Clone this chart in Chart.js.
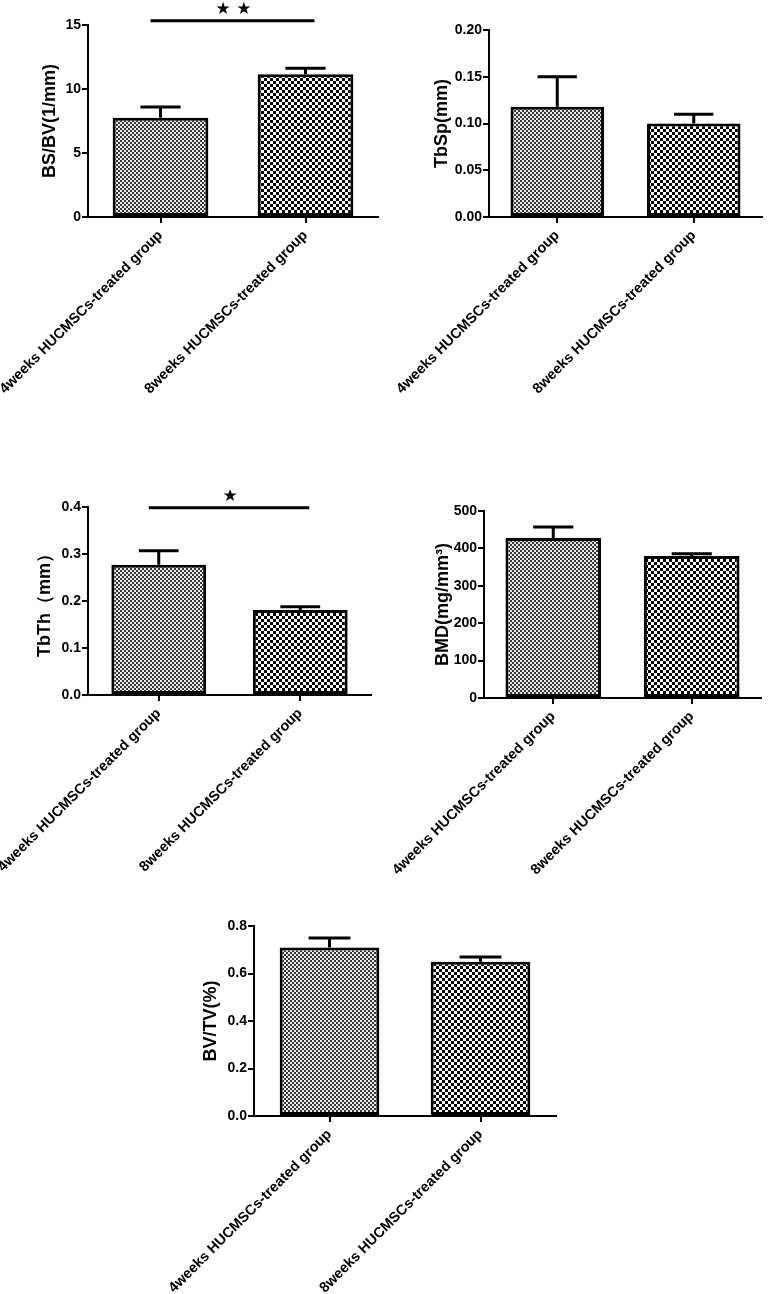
<!DOCTYPE html>
<html lang="en">
  <head>
    <meta charset="UTF-8" />
    <title>HUCMSCs micro-CT</title>
    <script src="https://cdn.jsdelivr.net/npm/chart.js"></script>
    <style>
      body { margin: 0; background: #fff; }
      .panel { position: absolute; }
    </style>
  </head>
  <body>
    <canvas id="bsbvChart" class="panel" width="384" height="480" style="left:0;top:0"></canvas>
    <canvas id="tbspChart" class="panel" width="384" height="480" style="left:384px;top:0"></canvas>
    <canvas id="tbthChart" class="panel" width="384" height="410" style="left:0;top:490px"></canvas>
    <canvas id="bmdChart" class="panel" width="384" height="410" style="left:384px;top:490px"></canvas>
    <canvas id="bvtvChart" class="panel" width="420" height="394" style="left:154px;top:900px"></canvas>

    <script>
      // groups
      const groups = ['4weeks HUCMSCs-treated group', '8weeks HUCMSCs-treated group']

      // means and SEM
      const bsbvMean = [7.75, 11.15]
      const bsbvSem = [0.85, 0.47]
      const tbspMean = [0.118, 0.1]
      const tbspSem = [0.032, 0.01]
      const tbthMean = [0.277, 0.181]
      const tbthSem = [0.03, 0.007]
      const bmdMean = [428, 380]
      const bmdSem = [29, 6]
      const bvtvMean = [0.71, 0.65]
      const bvtvSem = [0.04, 0.02]

      // y ticks
      const bsbvTicks = [0, 5, 10, 15]
      const tbspTicks = [0, 0.05, 0.1, 0.15, 0.2]
      const tbthTicks = [0, 0.1, 0.2, 0.3, 0.4]
      const bmdTicks = [0, 100, 200, 300, 400, 500]
      const bvtvTicks = [0, 0.2, 0.4, 0.6, 0.8]

      // significance bars (level in axis units)
      const bsbvSig = { level: 15.34, mark: '★ ★' }
      const tbthSig = { level: 0.3985, mark: '★' }

      const FONT = "'Liberation Sans', Arial, sans-serif"

      function checker(cell, dark, light) {
        const c = document.createElement('canvas')
        c.width = c.height = cell * 2
        const g = c.getContext('2d')
        g.fillStyle = light
        g.fillRect(0, 0, cell * 2, cell * 2)
        g.fillStyle = dark
        g.fillRect(0, 0, cell, cell)
        g.fillRect(cell, cell, cell, cell)
        return g.createPattern(c, 'repeat')
      }
      const fineFill = checker(2, '#3a3a3a', '#e6e6e6')
      const coarseFill = checker(3, '#000000', '#ffffff')

      const errorBars = {
        id: 'errorBars',
        afterDatasetsDraw(chart, args, opts) {
          const ctx = chart.ctx
          const y = chart.scales.y
          const meta = chart.getDatasetMeta(0)
          ctx.save()
          ctx.strokeStyle = '#000'
          ctx.lineWidth = 3
          meta.data.forEach((bar, i) => {
            const top = y.getPixelForValue(opts.mean[i] + opts.sem[i])
            const half = bar.width * 0.21
            ctx.beginPath()
            ctx.moveTo(bar.x, bar.y)
            ctx.lineTo(bar.x, top)
            ctx.moveTo(bar.x - half, top)
            ctx.lineTo(bar.x + half, top)
            ctx.stroke()
          })
          if (opts.sig) {
            const x0 = meta.data[0].x - 10
            const x1 = meta.data[1].x + 9
            const ys = y.getPixelForValue(opts.sig.level)
            ctx.beginPath()
            ctx.moveTo(x0, ys)
            ctx.lineTo(x1, ys)
            ctx.stroke()
            ctx.fillStyle = '#000'
            ctx.font = "17px 'DejaVu Sans'"
            ctx.textAlign = 'center'
            ctx.textBaseline = 'middle'
            ctx.fillText(opts.sig.mark, (x0 + x1) / 2 + 1, ys - 11)
          }
          ctx.restore()
        },
      }

      function makeChart(id, cfg) {
        const canvas = document.getElementById(id)
        new Chart(canvas, {
          type: 'bar',
          data: {
            labels: groups,
            datasets: [
              {
                data: cfg.mean,
                backgroundColor: [fineFill, coarseFill],
                borderColor: '#000',
                borderWidth: 3,
                borderSkipped: false,
                barPercentage: cfg.barPct,
                categoryPercentage: 1,
              },
            ],
          },
          options: {
            responsive: false,
            animation: false,
            layout: { padding: { top: cfg.padTop, right: cfg.padRight, left: 0, bottom: 0 } },
            plugins: {
              legend: { display: false },
              tooltip: { enabled: false },
              errorBars: { mean: cfg.mean, sem: cfg.sem, sig: cfg.sig },
            },
            scales: {
              x: {
                afterFit: (s) => {
                  s.height = canvas.height - cfg.bottom
                  s.paddingLeft = 0
                  s.paddingRight = 0
                },
                grid: { offset: false, drawOnChartArea: false, color: '#000', lineWidth: 2, tickLength: 6 },
                border: { color: '#000', width: 2 },
                ticks: {
                  color: '#000',
                  font: { family: FONT, size: 14.4, weight: 'bold' },
                  minRotation: 45,
                  maxRotation: 45,
                  autoSkip: false,
                  padding: 4,
                },
              },
              y: {
                min: cfg.ticks[0],
                max: cfg.ticks[cfg.ticks.length - 1],
                afterFit: (s) => {
                  s.width = cfg.yWidth
                  s.paddingTop = 0
                  s.paddingBottom = 0
                },
                afterBuildTicks: (s) => { s.ticks = cfg.ticks.map((v) => ({ value: v })) },
                grid: { drawOnChartArea: false, color: '#000', lineWidth: 2, tickLength: 6 },
                border: { color: '#000', width: 2 },
                ticks: {
                  color: '#000',
                  padding: 1,
                  font: { family: FONT, size: 14, weight: 'bold' },
                  callback: (v) => v.toFixed(cfg.dec),
                },
                title: {
                  display: true,
                  text: cfg.title,
                  color: '#000',
                  font: { family: FONT, size: 18, weight: 'bold' },
                  padding: { top: cfg.titlePad, bottom: 0 },
                },
              },
            },
          },
          plugins: [errorBars],
        })
      }

      makeChart('bsbvChart', {
        mean: bsbvMean, sem: bsbvSem, ticks: bsbvTicks, dec: 0, sig: bsbvSig,
        title: 'BS/BV(1/mm)', padTop: 25, padRight: 6, yWidth: 88, bottom: 217, titlePad: 39, barPct: 0.66,
      })
      makeChart('tbspChart', {
        mean: tbspMean, sem: tbspSem, ticks: tbspTicks, dec: 2, sig: null,
        title: 'TbSp(mm)', padTop: 30, padRight: 6, yWidth: 105, bottom: 217, titlePad: 47, barPct: 0.685,
      })
      makeChart('tbthChart', {
        mean: tbthMean, sem: tbthSem, ticks: tbthTicks, dec: 1, sig: tbthSig,
        title: 'TbTh（mm）', padTop: 17, padRight: 13, yWidth: 88, bottom: 205, titlePad: 34, barPct: 0.67,
      })
      makeChart('bmdChart', {
        mean: bmdMean, sem: bmdSem, ticks: bmdTicks, dec: 0, sig: null,
        title: 'BMD(mg/mm³)', padTop: 21, padRight: 7, yWidth: 100, bottom: 208, titlePad: 48, barPct: 0.69,
      })
      makeChart('bvtvChart', {
        mean: bvtvMean, sem: bvtvSem, ticks: bvtvTicks, dec: 1, sig: null,
        title: 'BV/TV(%)', padTop: 26, padRight: 18, yWidth: 100, bottom: 216, titlePad: 46, barPct: 0.66,
      })
    </script>
  </body>
</html>
